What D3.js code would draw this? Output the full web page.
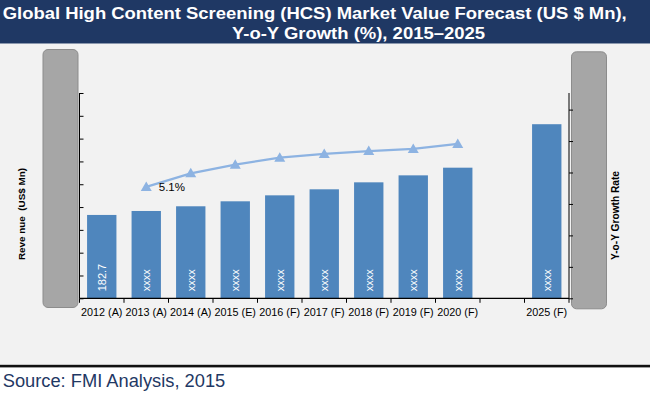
<!DOCTYPE html>
<html>
<head>
<meta charset="utf-8">
<script src="https://cdn.jsdelivr.net/npm/d3@7"></script>
<style>
  html, body { margin: 0; padding: 0; background: #ffffff; }
  svg { display: block; }
</style>
</head>
<body>
<svg id="chart" width="650" height="398"></svg>
<script>
// ---- data ----
const categories = ["2012 (A)", "2013 (A)", "2014 (A)", "2015 (E)", "2016 (F)", "2017 (F)", "2018 (F)", "2019 (F)", "2020 (F)", " ", "2025 (F)"];
const revenue = [182.7, 191.4, 201.7, 212.6, 225.7, 238.9, 254.2, 269.5, 286.3, null, 381.6];
const revenueLabels = ["182.7", "xxxx", "xxxx", "xxxx", "xxxx", "xxxx", "xxxx", "xxxx", "xxxx", "", "xxxx"];
const growthCategories = ["2013 (A)", "2014 (A)", "2015 (E)", "2016 (F)", "2017 (F)", "2018 (F)", "2019 (F)", "2020 (F)"];
const growth = [5.1, 5.72, 6.12, 6.44, 6.61, 6.74, 6.84, 7.07];
const growthLabel = "5.1%";
const revenueTicks = [0, 50, 100, 150, 200, 250, 300, 350, 400, 450];
const growthTicks = [0, 1.44, 2.88, 4.32, 5.76, 7.2, 8.64];
const titleLines = ["Global High Content Screening (HCS) Market Value Forecast (US $ Mn),", "Y-o-Y Growth (%), 2015\u20132025"];
const yLabel = "Reve nue  (US$ Mn)";
const y2Label = "Y-o-Y Growth Rate";
const sourceText = "Source: FMI Analysis, 2015";

// ---- layout ----
const svg = d3.select("#chart");
const W = 650, H = 398;
const plot = { left: 79.5, right: 569, top: 93, bottom: 298.3 };
const FONT = "Liberation Sans, Arial, sans-serif";

// backgrounds
svg.append("rect").attr("x", 0).attr("y", 0).attr("width", W).attr("height", H).attr("fill", "#ffffff");
svg.append("rect").attr("x", 0).attr("y", 43.5).attr("width", W).attr("height", 321.5).attr("fill", "#f2f2f2");
svg.append("rect").attr("x", 0).attr("y", 0).attr("width", W).attr("height", 43.5).attr("fill", "#1f3864");
svg.append("rect").attr("x", 0).attr("y", 364.8).attr("width", W).attr("height", 2.6).attr("fill", "#111111");

function fitWidth(sel, target) {
  const len = sel.node().getComputedTextLength();
  if (len > 0) sel.attr("textLength", target).attr("lengthAdjust", "spacingAndGlyphs");
}

// title
const t1 = svg.append("text").attr("x", 2.7).attr("y", 18.5)
  .attr("font-family", FONT).attr("font-weight", "bold")
  .attr("font-size", 16.3).attr("fill", "#ffffff").text(titleLines[0]);
const t2 = svg.append("text").attr("x", 232).attr("y", 38.5)
  .attr("font-family", FONT).attr("font-weight", "bold")
  .attr("font-size", 16.3).attr("fill", "#ffffff").text(titleLines[1]);
fitWidth(t1, 624);
fitWidth(t2, 253);

// source
svg.append("text").attr("x", 2.7).attr("y", 386.7)
  .attr("font-family", FONT).attr("font-size", 18.3)
  .attr("fill", "#1f3864").text(sourceText);

// gray side panels
svg.append("rect").attr("x", 43).attr("y", 49.5).attr("width", 35).attr("height", 258)
  .attr("rx", 5).attr("ry", 5).attr("fill", "#a6a6a6").attr("stroke", "#8c8c8c").attr("stroke-width", 1);
svg.append("rect").attr("x", 571.5).attr("y", 51.8).attr("width", 35).attr("height", 257)
  .attr("rx", 5).attr("ry", 5).attr("fill", "#a6a6a6").attr("stroke", "#8c8c8c").attr("stroke-width", 1);

// scales
const x = d3.scaleBand().domain(categories).range([plot.left, plot.right])
  .paddingInner(0.34).paddingOuter(0.17);
const y = d3.scaleLinear().domain([0, 450]).range([plot.bottom, plot.top]);
const y2 = d3.scaleLinear().domain([0, 9.4]).range([plot.bottom, plot.top]);

// bars
const barData = categories.map((c, i) => ({ c, v: revenue[i], label: revenueLabels[i] })).filter(d => d.v != null);
svg.append("g").selectAll("rect").data(barData).join("rect")
  .attr("x", d => x(d.c)).attr("width", x.bandwidth())
  .attr("y", d => y(d.v)).attr("height", d => y(0) - y(d.v))
  .attr("fill", "#4f86bd");

svg.append("g").selectAll("text").data(barData).join("text")
  .attr("transform", d => `translate(${x(d.c) + x.bandwidth() / 2 + 4},${y(0) - 7}) rotate(-90)`)
  .attr("font-family", FONT).attr("font-size", 11)
  .attr("fill", "#ffffff").text(d => d.label);

// left axis
const gy = svg.append("g").attr("transform", `translate(${plot.left},0)`)
  .call(d3.axisRight(y).tickValues(revenueTicks).tickSize(4).tickFormat(""));
gy.select(".domain").attr("stroke", "#000").attr("d", `M0,${plot.top}V${plot.bottom}`);
gy.selectAll(".tick line").attr("stroke", "#000");

// right axis
const gy2 = svg.append("g").attr("transform", `translate(${plot.right},0)`)
  .call(d3.axisRight(y2).tickValues(growthTicks).tickSize(4).tickFormat(""));
gy2.select(".domain").attr("stroke", "#000").attr("d", `M0,${plot.top}V${plot.bottom}`);
gy2.selectAll(".tick line").attr("stroke", "#000");

// x axis
const step = x.step();
const gx = svg.append("g");
gx.append("line").attr("x1", plot.left).attr("x2", plot.right).attr("y1", plot.bottom).attr("y2", plot.bottom)
  .attr("stroke", "#000").attr("stroke-width", 1.2);
gx.selectAll("line.tk").data(d3.range(categories.length + 1)).join("line").attr("class", "tk")
  .attr("x1", i => plot.left + i * step).attr("x2", i => plot.left + i * step)
  .attr("y1", plot.bottom).attr("y2", plot.bottom + 4.5).attr("stroke", "#000");
gx.selectAll("text").data(categories).join("text")
  .attr("x", d => x(d) + x.bandwidth() / 2).attr("y", 315.5)
  .attr("text-anchor", "middle").attr("font-family", FONT)
  .attr("font-size", 10.8).attr("fill", "#000").text(d => d.trim());

// growth line
const cx = c => x(c) + x.bandwidth() / 2;
const lineData = growthCategories.map((c, i) => ({ c, v: growth[i] }));
svg.append("path").datum(lineData)
  .attr("d", d3.line().x(d => cx(d.c)).y(d => y2(d.v)))
  .attr("fill", "none").attr("stroke", "#8db3e2").attr("stroke-width", 2.2);
svg.append("g").selectAll("path").data(lineData).join("path")
  .attr("transform", d => `translate(${cx(d.c)},${y2(d.v)})`)
  .attr("d", "M0,-5.5L5.5,4L-5.5,4Z")
  .attr("fill", "#8db3e2");
svg.append("text").attr("x", cx(growthCategories[0]) + 12.5).attr("y", y2(growth[0]) + 4.5)
  .attr("font-family", FONT).attr("font-size", 11.5)
  .attr("fill", "#000").text(growthLabel);

// axis titles
const yl = svg.append("text").attr("transform", "translate(24.5,214) rotate(-90)")
  .attr("text-anchor", "middle").attr("font-family", FONT)
  .attr("font-weight", "bold").attr("font-size", 9.5).attr("fill", "#000")
  .attr("xml:space", "preserve").style("white-space", "pre").text(yLabel);
fitWidth(yl, 92);
const y2l = svg.append("text").attr("transform", "translate(618.5,215.5) rotate(-90)")
  .attr("text-anchor", "middle").attr("font-family", FONT)
  .attr("font-weight", "bold").attr("font-size", 10).attr("fill", "#000").text(y2Label);
fitWidth(y2l, 89);
</script>
</body>
</html>
